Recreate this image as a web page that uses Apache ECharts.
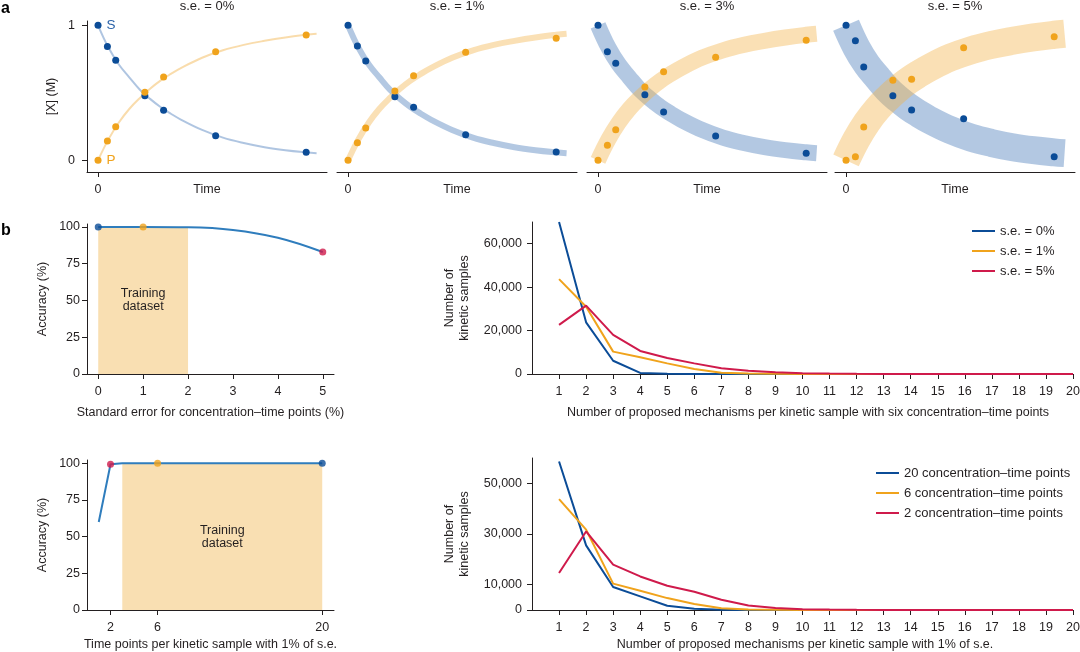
<!DOCTYPE html>
<html><head><meta charset="utf-8">
<script src="https://cdn.jsdelivr.net/npm/echarts@6/dist/echarts.min.js"></script>
<style>html,body{margin:0;padding:0;background:#fff}#c{width:1080px;height:652px}</style>
</head><body><div id="c"></div>
<script>
// ---------------- DATA ----------------
// Panel a
const aTitles = ['s.e. = 0%', 's.e. = 1%', 's.e. = 3%', 's.e. = 5%'];
const aTime = [0, 0.45, 0.85, 2.25, 3.15, 5.65, 10];
const aSPoints = [
  [1.0, 0.844, 0.741, 0.479, 0.370, 0.182, 0.059],
  [1.0, 0.847, 0.736, 0.471, 0.393, 0.190, 0.061],
  [1.0, 0.804, 0.719, 0.486, 0.358, 0.180, 0.052],
  [1.0, 0.886, 0.691, 0.479, 0.373, 0.308, 0.027]
];
const aPPoints = [
  [0, 0.143, 0.249, 0.504, 0.617, 0.804, 0.928],
  [0, 0.130, 0.239, 0.513, 0.627, 0.800, 0.904],
  [0, 0.111, 0.227, 0.543, 0.656, 0.763, 0.889],
  [0, 0.027, 0.247, 0.593, 0.600, 0.834, 0.916]
];
const aCurveT = [0, 0.5, 1, 1.5, 2, 2.5, 3, 3.5, 4, 5, 6, 7, 8, 9, 10, 10.5];
const aSCurve = [1.0, 0.835, 0.71, 0.615, 0.525, 0.455, 0.395, 0.345, 0.30, 0.225, 0.168, 0.128, 0.097, 0.075, 0.059, 0.053];
const aPCurve = [0, 0.155, 0.28, 0.38, 0.46, 0.53, 0.59, 0.64, 0.685, 0.76, 0.815, 0.855, 0.885, 0.91, 0.93, 0.938];
const aYTicks = [0, 1];
const aXTicks = [0];

// Panel b, top-left
const seTicks = [0, 1, 2, 3, 4, 5];
const accTicks = [0, 25, 50, 75, 100];
const accCurveSE = [0, 1, 2, 3, 4, 5];
const accCurveVal = [100, 100, 99.8, 98, 92.7, 83];
const accMarkSE = [0, 1, 5];
const accMarkVal = [100, 100, 83];
const trainingSE = [0, 2];

// Panel b, bottom-left
const tpTicks = [2, 6, 20];
const tpLine = [1, 2, 3, 6, 20];
const tpAcc = [60, 99.3, 100, 100, 100];
const tpMark = [2, 6, 20];
const tpMarkAcc = [99.3, 100, 100];
const trainingTP = [3, 20];

// Panel b, right
const mechCounts = [1, 2, 3, 4, 5, 6, 7, 8, 9, 10, 11, 12, 13, 14, 15, 16, 17, 18, 19, 20];
const seNames = ['s.e. = 0%', 's.e. = 1%', 's.e. = 5%'];
const mechSE0 = [70000, 23800, 6100, 500, 120, 40, 10, 0, 0, 0, 0, 0, 0, 0, 0, 0, 0, 0, 0, 0];
const mechSE1 = [43700, 31000, 10300, 7700, 4900, 2300, 600, 200, 60, 20, 0, 0, 0, 0, 0, 0, 0, 0, 0, 0];
const mechSE5 = [22600, 31500, 18000, 10600, 7400, 4900, 2600, 1500, 750, 400, 200, 100, 50, 20, 10, 0, 0, 0, 0, 0];
const topYTicks = [0, 20000, 40000, 60000];
const tpNames = ['20 concentration–time points', '6 concentration–time points', '2 concentration–time points'];
const mechTP20 = [58600, 25500, 9100, 5400, 1700, 500, 100, 0, 0, 0, 0, 0, 0, 0, 0, 0, 0, 0, 0, 0];
const mechTP6 = [43800, 31700, 10400, 7600, 4700, 2350, 650, 150, 50, 0, 0, 0, 0, 0, 0, 0, 0, 0, 0, 0];
const mechTP2 = [14600, 31000, 17900, 13250, 9600, 7200, 4060, 1800, 800, 300, 150, 60, 20, 0, 0, 0, 0, 0, 0, 0];
const botYTicks = [0, 10000, 30000, 50000];

// ---------------- STYLE ----------------
const FONT = '"Liberation Sans", Arial, Helvetica, sans-serif';
const TXT = '#231f20';
const AX = '#231f20';
const C_BLUE = '#0b4c97';
const C_ORANGE = '#f0a31c';
const C_RED = '#cf1a4b';
const C_ACC = '#2f7dbd';
const C_TRAIN = '#f9dfb2';
const S_BAND = 'rgba(110,150,200,0.52)';
const P_BAND = 'rgba(242,178,70,0.40)';
const bandWidths = [2, 6, 16, 28];
const FS = 12.5;

function mkX(gridIndex, min, max, tickVals, margin, name, nameGap) {
  return {
    type: 'value', gridIndex, min, max, nameMoveOverlap: false,
    name: name || '', nameLocation: 'middle', nameGap: nameGap || 0,
    nameTextStyle: { color: TXT, fontFamily: FONT, fontSize: FS },
    axisLine: { show: true, onZero: false, lineStyle: { color: AX, width: 1 } },
    axisTick: { show: true, length: 5, customValues: tickVals, lineStyle: { color: AX, width: 1 } },
    axisLabel: { show: true, customValues: tickVals, margin, color: TXT, fontFamily: FONT, fontSize: FS, hideOverlap: false },
    splitLine: { show: false }
  };
}
function mkY(gridIndex, min, max, tickVals, margin, name, nameGap, show, fmt) {
  return {
    type: 'value', gridIndex, min, max, show, nameMoveOverlap: false,
    name: name || '', nameLocation: 'middle', nameGap: nameGap || 0,
    nameTextStyle: { color: TXT, fontFamily: FONT, fontSize: FS, lineHeight: 15, align: 'center' },
    axisLine: { show: true, onZero: false, lineStyle: { color: AX, width: 1 } },
    axisTick: { show: true, length: 5, customValues: tickVals, lineStyle: { color: AX, width: 1 } },
    axisLabel: { show: true, customValues: tickVals, margin, color: TXT, fontFamily: FONT, fontSize: FS, hideOverlap: false,
      formatter: fmt || null },
    splitLine: { show: false }
  };
}

const grids = [
  { left: 87, top: 21, width: 240, height: 151 },
  { left: 337, top: 21, width: 240, height: 151 },
  { left: 587, top: 21, width: 240, height: 151 },
  { left: 835, top: 21, width: 240, height: 151 },
  { left: 87, top: 224, width: 247, height: 150 },
  { left: 532, top: 222, width: 541, height: 152 },
  { left: 87, top: 460, width: 247, height: 150 },
  { left: 532, top: 458, width: 541, height: 152 }
].map(g => Object.assign({ outerBoundsMode: 'none', containLabel: false }, g));

const xAxes = [];
const yAxes = [];
for (let i = 0; i < 4; i++) {
  xAxes.push(mkX(i, -0.53, 11, aXTicks, 11, 'Time', 11));
  yAxes.push(mkY(i, -0.0867, 1.032, aYTicks, 12, i === 0 ? '[X] (M)' : '', 28, i === 0));
}
const commaFmt = v => Number(v).toLocaleString('en-US');
xAxes.push(mkX(4, -0.25, 5.25, seTicks, 11, 'Standard error for concentration–time points (%)', 32));
yAxes.push(mkY(4, 0, 102, accTicks, 7, 'Accuracy (%)', 37, true));
xAxes.push(mkX(5, 0, 20, mechCounts, 11, '', 0));
yAxes.push(mkY(5, 0, 70000, topYTicks, 10, 'Number of\nkinetic samples', 60, true, commaFmt));
xAxes.push(mkX(6, 0, 21, tpTicks, 11, 'Time points per kinetic sample with 1% of s.e.', 28));
yAxes.push(mkY(6, 0, 102.2, accTicks, 7, 'Accuracy (%)', 37, true));
xAxes.push(mkX(7, 0, 20, mechCounts, 11, '', 0));
yAxes.push(mkY(7, 0, 60000, botYTicks, 10, 'Number of\nkinetic samples', 60, true, commaFmt));

const series = [];
const zip = (xs, ys) => xs.map((x, j) => [x, ys[j]]);

for (let i = 0; i < 4; i++) {
  const thin = i === 0;
  series.push({
    type: 'line', xAxisIndex: i, yAxisIndex: i, data: zip(aCurveT, aSCurve),
    smooth: 0.4, showSymbol: false, symbol: 'none', clip: false, silent: true, z: 1,
    lineStyle: { width: bandWidths[i], color: thin ? 'rgba(110,150,200,0.55)' : S_BAND, cap: 'butt', join: 'round' }
  });
  series.push({
    type: 'line', xAxisIndex: i, yAxisIndex: i, data: zip(aCurveT, aPCurve),
    smooth: 0.4, showSymbol: false, symbol: 'none', clip: false, silent: true, z: 1,
    lineStyle: { width: bandWidths[i], color: thin ? 'rgba(242,178,70,0.45)' : P_BAND, cap: 'butt', join: 'round' }
  });
  series.push({
    type: 'scatter', xAxisIndex: i, yAxisIndex: i, symbolSize: 7, z: 3, silent: true,
    itemStyle: { color: C_BLUE, opacity: 1 },
    data: aTime.map((t, j) => (i === 0 && j === 0) ? {
      value: [t, aSPoints[i][j]],
      label: { show: true, formatter: 'S', position: 'right', distance: 5, color: '#2a62a8', fontSize: 13.5, fontFamily: FONT }
    } : [t, aSPoints[i][j]])
  });
  series.push({
    type: 'scatter', xAxisIndex: i, yAxisIndex: i, symbolSize: 7, z: 4, silent: true,
    itemStyle: { color: C_ORANGE, opacity: 1 },
    data: aTime.map((t, j) => (i === 0 && j === 0) ? {
      value: [t, aPPoints[i][j]],
      label: { show: true, formatter: 'P', position: 'right', distance: 5, color: C_ORANGE, fontSize: 13.5, fontFamily: FONT }
    } : [t, aPPoints[i][j]])
  });
}

const areaLabel = { show: true, position: 'inside', formatter: 'Training\ndataset', color: TXT, fontSize: 12.5, lineHeight: 13, fontFamily: FONT };

// b top-left
series.push({
  type: 'line', xAxisIndex: 4, yAxisIndex: 4, data: zip(accCurveSE, accCurveVal),
  smooth: 0.4, symbol: 'none', z: 2, silent: true,
  lineStyle: { color: C_ACC, width: 2 },
  markArea: { silent: true, itemStyle: { color: C_TRAIN }, label: areaLabel,
    data: [[{ xAxis: trainingSE[0], yAxis: 0 }, { xAxis: trainingSE[1], yAxis: 100 }]] }
});
const markColors = [C_BLUE, C_ORANGE, C_RED];
series.push({
  type: 'scatter', xAxisIndex: 4, yAxisIndex: 4, symbolSize: 7, z: 4, silent: true,
  data: accMarkSE.map((x, j) => ({ value: [x, accMarkVal[j]], itemStyle: { color: markColors[j] } }))
});
// b bottom-left
series.push({
  type: 'line', xAxisIndex: 6, yAxisIndex: 6, data: zip(tpLine, tpAcc),
  symbol: 'none', z: 2, silent: true,
  lineStyle: { color: C_ACC, width: 2 },
  markArea: { silent: true, itemStyle: { color: C_TRAIN }, label: areaLabel,
    data: [[{ xAxis: trainingTP[0], yAxis: 0 }, { xAxis: trainingTP[1], yAxis: 100 }]] }
});
const tpMarkColors = [C_RED, C_ORANGE, C_BLUE];
series.push({
  type: 'scatter', xAxisIndex: 6, yAxisIndex: 6, symbolSize: 7, z: 4, silent: true,
  data: tpMark.map((x, j) => ({ value: [x, tpMarkAcc[j]], itemStyle: { color: tpMarkColors[j] } }))
});
// b right
const lineCols = [C_BLUE, C_ORANGE, C_RED];
[mechSE0, mechSE1, mechSE5].forEach((arr, k) => series.push({
  type: 'line', name: seNames[k], xAxisIndex: 5, yAxisIndex: 5, data: zip(mechCounts, arr),
  symbol: 'none', color: lineCols[k], lineStyle: { color: lineCols[k], width: 2 }, silent: true, z: 2 + k
}));
[mechTP20, mechTP6, mechTP2].forEach((arr, k) => series.push({
  type: 'line', name: tpNames[k], xAxisIndex: 7, yAxisIndex: 7, data: zip(mechCounts, arr),
  symbol: 'none', color: lineCols[k], lineStyle: { color: lineCols[k], width: 2 }, silent: true, z: 2 + k
}));

const legendBase = {
  orient: 'vertical', itemWidth: 23, itemHeight: 2, icon: 'rect', itemGap: 6, padding: 0, selectedMode: false,
  textStyle: { fontSize: 13, lineHeight: 14, color: TXT, fontFamily: FONT }
};

const graphic = [
  { type: 'text', x: 1, y: 9, style: { text: 'a', font: 'bold 16px ' + FONT, fill: '#000', verticalAlign: 'middle' } },
  { type: 'text', x: 1, y: 231, style: { text: 'b', font: 'bold 16px ' + FONT, fill: '#000', verticalAlign: 'middle' } },
  { type: 'text', x: 808, y: 413, style: { text: 'Number of proposed mechanisms per kinetic sample with six concentration–time points', font: FS + 'px ' + FONT, fill: TXT, align: 'center', verticalAlign: 'middle' } },
  { type: 'text', x: 805, y: 645, style: { text: 'Number of proposed mechanisms per kinetic sample with 1% of s.e.', font: FS + 'px ' + FONT, fill: TXT, align: 'center', verticalAlign: 'middle' } }
];
const titleX = [207, 457, 707, 955];
aTitles.forEach((t, i) => graphic.push({ type: 'text', x: titleX[i], y: 6, style: { text: t, font: '13px ' + FONT, fill: TXT, align: 'center', verticalAlign: 'middle' } }));

const chart = echarts.init(document.getElementById('c'), null, { renderer: 'canvas', width: 1080, height: 652 });
chart.setOption({
  animation: false,
  backgroundColor: '#fff',
  textStyle: { fontFamily: FONT },
  grid: grids,
  xAxis: xAxes,
  yAxis: yAxes,
  legend: [
    Object.assign({ data: seNames, left: 972, top: 224 }, legendBase),
    Object.assign({ data: tpNames, left: 876, top: 466 }, legendBase)
  ],
  graphic,
  series
});
</script></body></html>
